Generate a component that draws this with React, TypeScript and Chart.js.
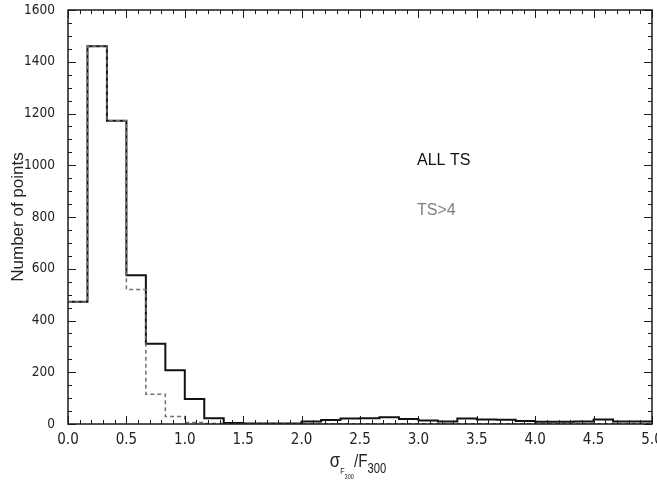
import React, { useEffect, useRef } from 'react';
import { Chart, registerables } from 'chart.js';

Chart.register(...registerables);

// Histogram bin edges (bin width 1/6) on sigma_F300 / F300
const BIN_EDGES = [
  0, 1 / 6, 2 / 6, 3 / 6, 4 / 6, 5 / 6, 6 / 6, 7 / 6, 8 / 6, 9 / 6, 10 / 6,
  11 / 6, 12 / 6, 13 / 6, 14 / 6, 15 / 6, 16 / 6, 17 / 6, 18 / 6, 19 / 6, 20 / 6,
  21 / 6, 22 / 6, 23 / 6, 24 / 6, 25 / 6, 26 / 6, 27 / 6, 28 / 6, 29 / 6, 30 / 6,
];

// Counts per bin, all TS
const ALL_TS = [
  472, 1460, 1172, 575, 310, 208, 97, 22, 4, 2,
  2, 2, 10, 15, 21, 22, 26, 19, 14, 10,
  21, 17, 16, 12, 9, 9, 10, 17, 10, 10,
];

// Counts per bin, TS > 4
const TS_GT4 = [
  472, 1460, 1172, 520, 115, 29, 6, 2, 1, 1,
  1, 1, 1, 1, 1, 1, 1, 1, 1, 1,
  1, 1, 1, 1, 1, 1, 1, 1, 1, 1,
];

const X_MIN = 0;
const X_MAX = 5;
const Y_MIN = 0;
const Y_MAX = 1600;

const TICK_FONT = "'Liberation Sans Narrow', 'DejaVu Sans Condensed', 'Liberation Sans', Arial, sans-serif";
const TEXT_FONT = "'Liberation Sans', Arial, sans-serif";

// Step line: the value of bin i spans [edge i, edge i+1]
function toSteps(values: number[]) {
  const pts = values.map((v, i) => ({ x: BIN_EDGES[i], y: v }));
  pts.push({ x: BIN_EDGES[BIN_EDGES.length - 1], y: values[values.length - 1] });
  return pts;
}

const framePlugin = {
  id: 'frameTicks',
  afterDatasetsDraw(chart: any) {
    const { ctx, chartArea: a, scales } = chart;
    const x = scales.x;
    const y = scales.y;
    ctx.save();
    ctx.strokeStyle = '#1a1a1a';
    ctx.lineWidth = 1;
    ctx.beginPath();
    for (let i = 0; i <= 50; i++) {
      const px = Math.round(x.getPixelForValue(i / 10)) + 0.5;
      const len = i % 5 === 0 ? 8 : 4;
      ctx.moveTo(px, a.bottom);
      ctx.lineTo(px, a.bottom - len);
      ctx.moveTo(px, a.top);
      ctx.lineTo(px, a.top + len);
    }
    for (let i = 0; i <= 32; i++) {
      const py = Math.round(y.getPixelForValue(i * 50)) + 0.5;
      const len = i % 4 === 0 ? 8 : 4;
      ctx.moveTo(a.left, py);
      ctx.lineTo(a.left + len, py);
      ctx.moveTo(a.right, py);
      ctx.lineTo(a.right - len, py);
    }
    ctx.stroke();
    ctx.lineWidth = 1.5;
    ctx.strokeRect(a.left, a.top, a.right - a.left, a.bottom - a.top);
    ctx.restore();
  },
  afterDraw(chart: any) {
    const { ctx, chartArea: a } = chart;
    ctx.save();
    // In-plot labels
    ctx.textBaseline = 'middle';
    ctx.textAlign = 'left';
    ctx.font = `16px ${TEXT_FONT}`;
    ctx.fillStyle = '#111';
    ctx.fillText('ALL TS', 417, 161);
    ctx.fillStyle = '#808080';
    ctx.fillText('TS>4', 417, 211);

    // Y title
    ctx.save();
    ctx.translate(18, 217);
    ctx.rotate(-Math.PI / 2);
    ctx.textAlign = 'center';
    ctx.textBaseline = 'middle';
    ctx.fillStyle = '#222';
    ctx.font = `17px ${TEXT_FONT}`;
    ctx.fillText('Number of points', 0, 0);
    ctx.restore();

    // X title: sigma_{F_300}/F_300
    const parts = [
      { t: 'σ', size: 21, base: 467 },
      { t: 'F', size: 9, base: 473.5 },
      { t: '300', size: 7, base: 478.5 },
      { t: '/F', size: 19, base: 467 },
      { t: '300', size: 14, base: 473 },
    ];
    ctx.textAlign = 'left';
    ctx.textBaseline = 'alphabetic';
    ctx.fillStyle = '#222';
    const sx = 0.8;
    let total = 0;
    const widths = parts.map((p) => {
      ctx.font = `${p.size}px ${TEXT_FONT}`;
      const w = ctx.measureText(p.t).width * sx;
      total += w;
      return w;
    });
    const cx = (a.left + a.right) / 2 - 2;
    let cur = cx - total / 2;
    parts.forEach((p, i) => {
      ctx.save();
      ctx.font = `${p.size}px ${TEXT_FONT}`;
      ctx.translate(cur, p.base);
      ctx.scale(sx, 1);
      ctx.fillText(p.t, 0, 0);
      ctx.restore();
      cur += widths[i];
    });
    ctx.restore();
  },
};

export default function App() {
  const ref = useRef<HTMLCanvasElement | null>(null);

  useEffect(() => {
    if (!ref.current) return;
    const chart = new Chart(ref.current, {
      type: 'line',
      data: {
        datasets: [
          {
            label: 'TS>4',
            data: toSteps(TS_GT4),
            stepped: 'before',
            borderColor: '#707070',
            borderWidth: 1.5,
            borderDash: [4, 3],
            pointRadius: 0,
            fill: false,
            order: 0,
          },
          {
            label: 'ALL TS',
            data: toSteps(ALL_TS),
            stepped: 'before',
            borderColor: '#111111',
            borderWidth: 2,
            pointRadius: 0,
            fill: false,
            order: 1,
          },
        ],
      },
      options: {
        animation: false,
        responsive: false,
        events: [],
        layout: { padding: { top: 10, right: 5, left: 0, bottom: 0 } },
        plugins: {
          legend: { display: false },
          tooltip: { enabled: false },
          title: { display: false },
        },
        scales: {
          x: {
            type: 'linear',
            min: X_MIN,
            max: X_MAX,
            grid: { display: false, drawTicks: false },
            border: { display: false },
            ticks: {
              stepSize: 0.5,
              autoSkip: false,
              maxRotation: 0,
              padding: 7,
              color: '#222',
              font: { family: TICK_FONT, size: 15 },
              callback: (v: any) => Number(v).toFixed(1),
            },
            afterFit: (s: any) => {
              s.height = 56;
              s.paddingLeft = 0;
              s.paddingRight = 0;
            },
          },
          y: {
            type: 'linear',
            min: Y_MIN,
            max: Y_MAX,
            grid: { display: false, drawTicks: false },
            border: { display: false },
            ticks: {
              stepSize: 200,
              autoSkip: false,
              padding: 13,
              color: '#222',
              font: { family: TICK_FONT, size: 13.5 },
              callback: (v: any) => String(v),
            },
            afterFit: (s: any) => {
              s.width = 68;
              s.paddingTop = 0;
              s.paddingBottom = 0;
            },
          },
        },
      },
      plugins: [framePlugin],
    });
    return () => chart.destroy();
  }, []);

  return (
    <div style={{ position: 'absolute', left: 0, top: 0, width: 657, height: 480, background: '#fff' }}>
      <canvas ref={ref} width={657} height={480} />
    </div>
  );
}
